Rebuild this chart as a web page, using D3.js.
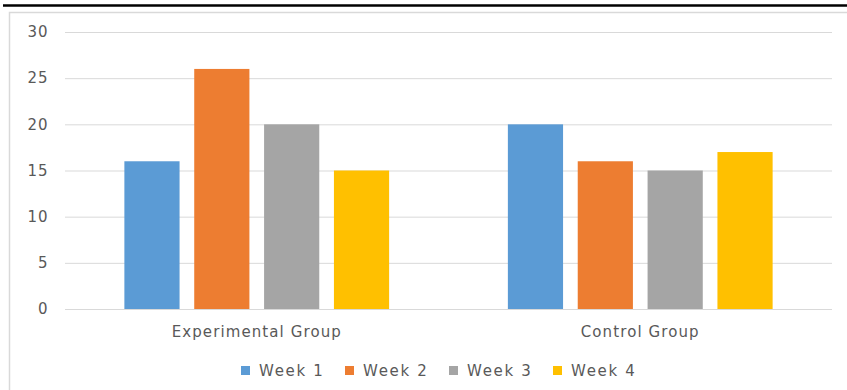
<!DOCTYPE html>
<html><head><meta charset="utf-8">
<script src="https://cdn.jsdelivr.net/npm/d3@7"></script>
<style>body{margin:0;background:#fff}svg{display:block}</style>
</head><body>
<svg id="c" width="847" height="390"></svg>
<script>
const categories = ["Experimental Group", "Control Group"];
const seriesNames = ["Week 1", "Week 2", "Week 3", "Week 4"];
const week1 = [16, 20];
const week2 = [26, 16];
const week3 = [20, 15];
const week4 = [15, 17];
const yTicks = [0, 5, 10, 15, 20, 25, 30];
const colors = ["#5B9BD5", "#ED7D31", "#A5A5A5", "#FFC000"];
const seriesValues = [week1, week2, week3, week4];

const svg = d3.select("#c");
const font = "'DejaVu Sans', Verdana, sans-serif";

// top black rule and frame
svg.append("line").attr("x1", 3).attr("x2", 847).attr("y1", 5.5).attr("y2", 5.5)
  .attr("stroke", "#000").attr("stroke-width", 2.5);
svg.append("rect").attr("x", 9.5).attr("y", 12.5).attr("width", 850).attr("height", 400)
  .attr("fill", "none").attr("stroke", "#D9D9D9").attr("stroke-width", 1.5);

const x0 = d3.scaleBand().domain(categories).range([65, 832]);
const x1 = d3.scaleBand().domain(seriesNames).range([0, x0.bandwidth()]).paddingOuter(0.85).paddingInner(0.21);
const y = d3.scaleLinear().domain([0, 30]).range([309, 32]);

// gridlines
svg.append("g").selectAll("line").data(yTicks).join("line")
  .attr("x1", 65).attr("x2", 832)
  .attr("y1", d => y(d) + 0.5).attr("y2", d => y(d) + 0.5)
  .attr("stroke", "#D9D9D9").attr("stroke-width", 1);

// y axis labels
const yAxis = d3.axisLeft(y).tickValues(yTicks).tickSize(0).tickPadding(0);
const gy = svg.append("g").attr("transform", "translate(48.5,0)").call(yAxis);
gy.select(".domain").remove();
gy.selectAll("text").attr("fill", "#595959").style("font-family", font).style("font-size", "15px")
  .style("letter-spacing", "1px");

// bars
const data = [];
categories.forEach((c, i) => seriesNames.forEach((s, j) => data.push({c, s, v: seriesValues[j][i], j})));
svg.append("g").selectAll("rect").data(data).join("rect")
  .attr("x", d => x0(d.c) + x1(d.s))
  .attr("width", x1.bandwidth())
  .attr("y", d => y(d.v))
  .attr("height", d => y(0) - y(d.v))
  .attr("fill", d => colors[d.j]);

// x axis labels
const xAxis = d3.axisBottom(x0).tickSize(0).tickPadding(0);
const gx = svg.append("g").attr("transform", "translate(0,326.5)").call(xAxis);
gx.select(".domain").remove();
gx.selectAll("text").attr("fill", "#595959").style("font-family", font).style("font-size", "15px")
  .style("letter-spacing", "1.1px");

// legend
const legendX = [241, 345, 449, 553];
const lg = svg.append("g").selectAll("g").data(seriesNames).join("g")
  .attr("transform", (d, i) => `translate(${legendX[i]},366)`);
lg.append("rect").attr("width", 9).attr("height", 9).attr("fill", (d, i) => colors[i]);
lg.append("text").attr("x", 18).attr("y", 9.5).text(d => d)
  .attr("fill", "#595959").style("font-family", font).style("font-size", "15px")
  .style("letter-spacing", "1.7px");
</script>
</body></html>
